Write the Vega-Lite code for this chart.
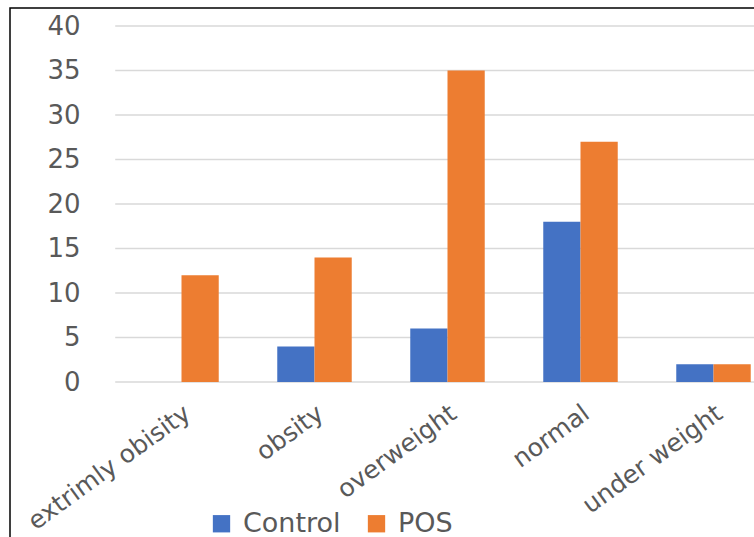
{
  "$schema": "https://vega.github.io/schema/vega-lite/v6.json",
  "width": 746,
  "height": 531,
  "autosize": {"type": "none"},
  "padding": {"left": 10, "top": 8, "right": 0, "bottom": 0},
  "background": "white",
  "config": {
    "view": {"stroke": "black", "strokeWidth": 1.5},
    "font": "DejaVu Sans"
  },
  "datasets": {
    "counts": [
      {"category": "extrimly obisity", "group": "Control", "value": 0},
      {"category": "extrimly obisity", "group": "POS", "value": 12},
      {"category": "obsity", "group": "Control", "value": 4},
      {"category": "obsity", "group": "POS", "value": 14},
      {"category": "overweight", "group": "Control", "value": 6},
      {"category": "overweight", "group": "POS", "value": 35},
      {"category": "normal", "group": "Control", "value": 18},
      {"category": "normal", "group": "POS", "value": 27},
      {"category": "under weight", "group": "Control", "value": 2},
      {"category": "under weight", "group": "POS", "value": 2}
    ],
    "gridlines": [
      {"v": 0}, {"v": 5}, {"v": 10}, {"v": 15}, {"v": 20},
      {"v": 25}, {"v": 30}, {"v": 35}, {"v": 40}
    ]
  },
  "resolve": {"scale": {"x": "shared", "y": "shared"}},
  "layer": [
    {
      "data": {"name": "gridlines"},
      "mark": {"type": "rule", "color": "#d9d9d9", "strokeWidth": 1.5},
      "encoding": {
        "x": {"datum": "extrimly obisity", "type": "nominal", "bandPosition": -0.39},
        "x2": {"datum": "under weight", "bandPosition": 1.6},
        "y": {"field": "v", "type": "quantitative"}
      }
    },
    {
      "data": {"name": "counts"},
      "mark": {"type": "bar"},
      "encoding": {
        "x": {
          "field": "category",
          "type": "nominal",
          "sort": null,
          "scale": {
            "domain": ["extrimly obisity", "obsity", "overweight", "normal", "under weight"],
            "range": [105, 770],
            "paddingInner": 0.44,
            "paddingOuter": 0.22
          },
          "axis": {
            "title": null,
            "orient": "bottom",
            "offset": -157,
            "domain": false,
            "ticks": false,
            "tickSize": 0,
            "labelAngle": -36,
            "labelAlign": "right",
            "labelBaseline": "middle",
            "labelPadding": 28,
            "labelOffset": 6,
            "labelLimit": 0,
            "labelFontSize": 25,
            "labelColor": "#595959",
            "labelFont": "DejaVu Sans"
          }
        },
        "xOffset": {
          "field": "group",
          "type": "nominal",
          "scale": {"paddingInner": 0, "paddingOuter": 0}
        },
        "y": {
          "field": "value",
          "type": "quantitative",
          "scale": {"domain": [0, 40], "range": [374, 18], "nice": false},
          "axis": {
            "title": null,
            "orient": "left",
            "offset": -70,
            "values": [0, 5, 10, 15, 20, 25, 30, 35, 40],
            "grid": false,
            "domain": false,
            "ticks": false,
            "tickSize": 0,
            "labelPadding": 0,
            "labelFontSize": 26,
            "labelColor": "#595959",
            "labelFont": "DejaVu Sans"
          }
        },
        "color": {
          "field": "group",
          "type": "nominal",
          "scale": {"domain": ["Control", "POS"], "range": ["#4472c4", "#ed7d31"]},
          "legend": {
            "title": null,
            "orient": "none",
            "direction": "horizontal",
            "legendX": 198,
            "legendY": 502,
            "symbolType": "square",
            "symbolSize": 300,
            "symbolStrokeWidth": 0,
            "labelFontSize": 27,
            "labelColor": "#595959",
            "labelFont": "DejaVu Sans",
            "labelOffset": 8,
            "columnPadding": 22
          }
        }
      }
    }
  ]
}
